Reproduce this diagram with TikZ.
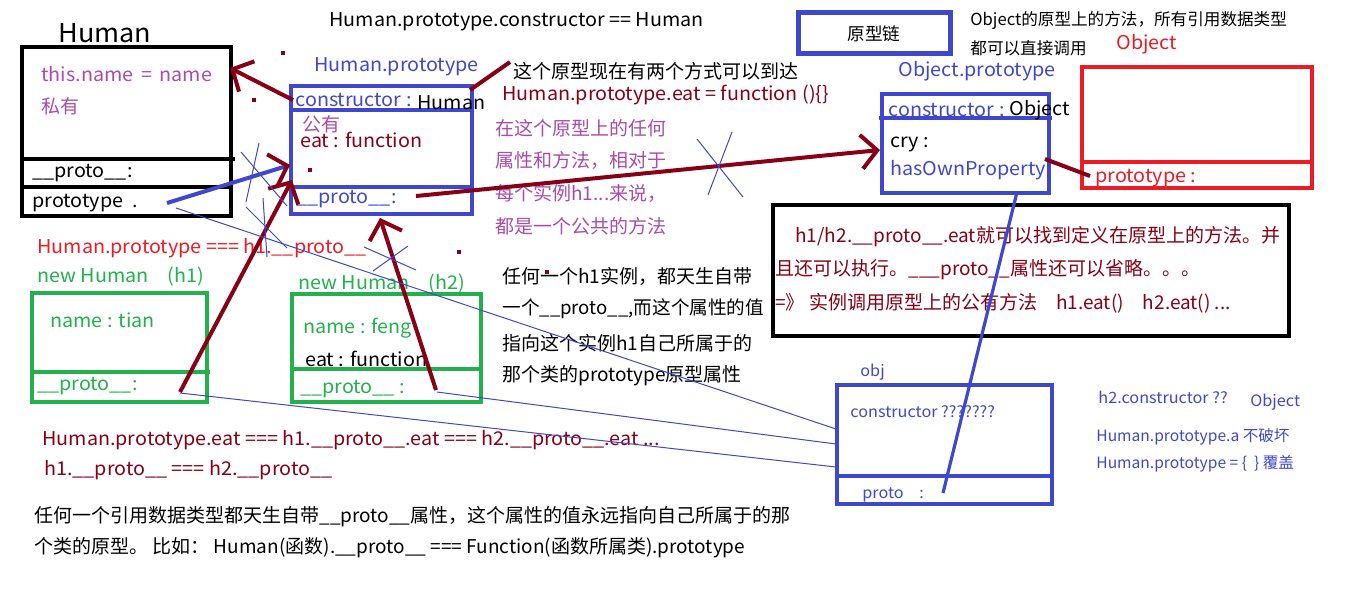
\documentclass[tikz,border=0pt]{standalone}
\usepackage{fontspec}
\setmainfont{Noto Sans CJK SC}
\newfontfamily\wide[FakeStretch=1.04]{Noto Sans CJK SC}
\usetikzlibrary{arrows.meta}
\definecolor{pdarkred}{RGB}{136,0,21}
\definecolor{pred}{RGB}{237,28,36}
\definecolor{pgreen}{RGB}{34,177,76}
\definecolor{pblue}{RGB}{63,72,204}
\definecolor{ppurple}{RGB}{170,75,170}
\newcommand{\prt}{\_\_proto\_\_}

\begin{document}
\begin{tikzpicture}[x=0.5pt, y=-0.5pt,
  txt/.style={anchor=west, inner sep=0pt, font=\wide\fontsize{9.5}{11}\selectfont},
  zh/.style={font=\normalfont\fontsize{9.5}{11}\selectfont},
  sm/.style={anchor=west, inner sep=0pt, font=\wide\fontsize{7.8}{9}\selectfont},
  zhsm/.style={font=\normalfont\fontsize{7.8}{9}\selectfont},
  box/.style={line width=1.6pt},
  link/.style={pdarkred, line width=2pt, -{Straight Barb[length=8pt, width=17pt]}},
  scrib/.style={pblue, line width=0.5pt}]
  \fill[white] (0,0) rectangle (1360,591);
  \useasboundingbox (0,0) rectangle (1360,591);

  \draw[box] (22,47) rectangle (231,216);
  \draw[box] (20,159) -- (235,159) (22,187) -- (231,187);
  \node[txt, font=\wide\fontsize{13}{15}\selectfont] (title) at (58,33) {Human};
  \node[txt, ppurple] (thisname) at (41,74) {this.name \,=\, name};
  \node[txt, zh, ppurple] (private) at (41,106) {私有};
  \node[txt] (hproto) at (32,173) {\prt:};
  \node[txt] (hprototype) at (32,203) {prototype\ \ .};

  \node[txt] (ctoreq) at (329,22) {Human.prototype.constructor == Human};

  \draw[box, pblue] (291,86) rectangle (472,214);
  \draw[box, pblue] (291,110) -- (472,110) (291,187) -- (472,187);
  \node[txt, pblue] (hplabel) at (314,67) {Human.prototype};
  \node[txt, pblue] (hpctor) at (295,100) {constructor :};
  \node[txt] (hpctorval) at (417,103) {Human};
  \node[txt, zh, ppurple] (public) at (302,124) {公有};
  \node[txt, pdarkred] (hpeat) at (300,140) {eat : function};
  \node[txt, pblue] (hpproto) at (296,199) {\prt:};

  \draw[pblue, line width=2.5pt] (798,12) rectangle (950,53);
  \node[txt, zh, anchor=center, font=\normalfont\fontsize{8.8}{10}\selectfont] (chain) at (874,34) {原型链};
  \node[sm, zhsm, font=\normalfont\fontsize{8.3}{10}\selectfont] (objnote1) at (970,20) {Object的原型上的方法，所有引用数据类型};
  \node[sm, zhsm, font=\normalfont\fontsize{8.3}{10}\selectfont] (objnote2) at (970,48) {都可以直接调用};

  \draw[box, pblue] (882,94) rectangle (1049,193);
  \draw[box, pblue] (879,118) -- (1052,118);
  \node[txt, pblue] (oplabel) at (898,71) {Object.prototype};
  \node[txt, pblue] (opctor) at (888,110) {constructor :};
  \node[txt] (opctorval) at (1009,110) {Object};
  \node[txt] (cry) at (890,144) {cry :};
  \node[txt, pblue] (hasown) at (890,170) {hasOwnProperty};

  \draw[box, pred] (1082,67) rectangle (1312,188);
  \draw[box, pred] (1082,162) -- (1312,162);
  \node[txt, pred] (objlabel) at (1116,44) {Object};
  \node[txt, pred] (oprototype) at (1095,178) {prototype :};

  \node[txt, zh] (twoways) at (513,71) {这个原型现在有两个方式可以到达};
  \node[txt, pdarkred] (eatdef) at (502,95) {Human.prototype.eat = function ()\{\}};
  \node[txt, zh, ppurple] (pub1) at (495,128) {在这个原型上的任何};
  \node[txt, zh, ppurple] (pub2) at (495,160) {属性和方法，相对于};
  \node[txt, zh, ppurple] (pub3) at (495,193) {每个实例h1...来说，};
  \node[txt, zh, ppurple] (pub4) at (495,226) {都是一个公共的方法};

  \draw[box, line width=2pt] (773,205) rectangle (1289,336);
  \node[txt, zh, pdarkred] (note1) at (795,237) {h1/h2.\prt.eat就可以找到定义在原型上的方法。并};
  \node[txt, zh, pdarkred] (note2) at (775,270) {且还可以执行。\_\prt{}属性还可以省略。。。};
  \node[txt, zh, pdarkred] (note3) at (775,303) {=》 实例调用原型上的公有方法\quad h1.eat()\quad h2.eat() ...};

  \node[txt, pred] (h1eq) at (37,248) {Human.prototype === h1.\prt};
  \node[txt, pgreen] (h1label) at (37,277) {new Human\quad (h1)};
  \draw[box, pgreen] (32,293) rectangle (207,402);
  \draw[box, pgreen] (32,372) -- (210,372);
  \node[txt, pgreen] (h1name) at (50,320) {name : tian};
  \node[txt, pgreen] (h1proto) at (37,386) {\prt:};

  \node[txt, pgreen] (h2label) at (298,284) {new Human\quad (h2)};
  \draw[box, pgreen] (292,294) rectangle (481,402);
  \draw[box, pgreen] (292,369) -- (483,369);
  \node[txt, pgreen] (h2name) at (303,328) {name : feng};
  \node[txt] (h2eat) at (305,359) {eat : function};
  \node[txt, pgreen] (h2proto) at (300,389) {\prt\ :};

  \node[txt, zh] (inst1) at (502,276) {任何一个h1实例，都天生自带};
  \node[txt, zh, font=\normalfont\fontsize{9.3}{11}\selectfont] (inst2) at (502,309) {一个\prt{},而这个属性的值};
  \node[txt, zh] (inst3) at (502,343) {指向这个实例h1自己所属于的};
  \node[txt, zh] (inst4) at (502,376) {那个类的prototype原型属性};

  \draw[box, pblue] (837,385) rectangle (1052,504);
  \draw[box, pblue] (837,476) -- (1052,476);
  \node[sm, pblue] (objname) at (860,372) {obj};
  \node[sm, pblue] (objctor) at (850,412) {constructor ???????};
  \node[sm, pblue] (objproto) at (862,495) {proto\quad :};

  \node[sm, pblue] (h2ctor) at (1098,397) {h2.constructor ??};
  \node[sm, pblue] (h2ctorval) at (1250,402) {Object};
  \node[sm, zhsm, pblue] (keep) at (1096,437) {Human.prototype.a 不破坏};
  \node[sm, zhsm, pblue] (cover) at (1096,464) {Human.prototype = \{\ \ \} 覆盖};

  \node[txt, pdarkred] (eateq) at (42,440) {Human.prototype.eat === h1.\prt.eat === h2.\prt.eat ...};
  \node[txt, pdarkred] (protoeq) at (44,470) {h1.\prt\ === h2.\prt};
  \node[txt, zh] (rule1) at (34,517) {任何一个引用数据类型都天生自带\prt{}属性，这个属性的值永远指向自己所属于的那};
  \node[txt, zh] (rule2) at (34,548) {个类的原型。 比如： Human(函数).\prt\ === Function(函数所属类).prototype};

  \coordinate (a1) at (293,100);   \coordinate (a2) at (230,68);
  \coordinate (b1) at (470,90);    \coordinate (b2) at (510,62);
  \coordinate (c1) at (180,392);   \coordinate (c2) at (292,180);
  \coordinate (p1) at (167,203);   \coordinate (p2) at (290,165);
  \coordinate (d1) at (436,390);   \coordinate (d2) at (380,218);
  \coordinate (e1) at (416,196);   \coordinate (e2) at (880,150);
  \coordinate (f1) at (1045,159);  \coordinate (f2) at (1090,176);
  \coordinate (o1) at (943,493);   \coordinate (o2) at (1017,192);
  \coordinate (s1) at (176,208);   \coordinate (s2) at (836,429);
  \coordinate (t1) at (437,392);   \coordinate (t2) at (836,444);
  \coordinate (u1) at (180,393);   \coordinate (u2) at (836,467);

  \draw[link] (a1) -- (a2);
  \draw[pdarkred, line width=2pt] (b1) -- (b2);
  \draw[pblue, line width=2pt, -{Straight Barb[pdarkred, length=8pt, width=17pt]}] (p1) -- (p2);
  \draw[link] (c1) -- (c2);
  \draw[link] (d1) -- (d2);
  \draw[link] (e1) -- (e2);
  \draw[pdarkred, line width=2pt] (f1) -- (f2);
  \draw[pblue, line width=1.6pt] (o1) -- (o2);
  \draw[scrib] (s1) -- (s2);
  \draw[scrib] (t1) -- (t2);
  \draw[scrib] (u1) -- (u2);

  \foreach \xa/\ya/\xb/\yb in {241/152/287/206, 259/143/246/202, 246/207/287/248, 263/198/267/257,
      364/247/416/270, 408/246/373/271, 697/139/743/197, 732/132/708/195}
    \draw[scrib] (\xa,\ya) -- (\xb,\yb);
  \foreach \x/\y in {283/53, 254/100, 310/170, 459/252, 547/272}
    \fill[pdarkred] (\x-2,\y-2) rectangle (\x+2,\y+2);
\end{tikzpicture}
\end{document}
